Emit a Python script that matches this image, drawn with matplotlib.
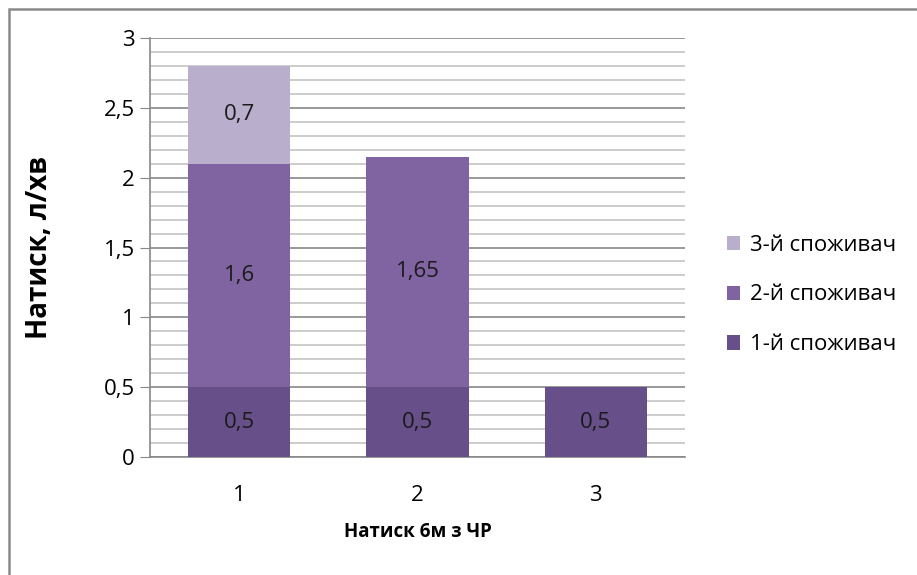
import numpy as np
import matplotlib.pyplot as plt
from matplotlib.patches import Rectangle
from matplotlib.ticker import MultipleLocator, FuncFormatter

plt.rcParams['font.family'] = ['Open Sans', 'DejaVu Sans']

categories = ["1", "2", "3"]
series_names = ["1-й споживач", "2-й споживач", "3-й споживач"]
consumer1 = [0.5, 0.5, 0.5]
consumer2 = [1.6, 1.65, 0.0]
consumer3 = [0.7, 0.0, 0.0]
colors = ["#67508a", "#8064a2", "#b9aecb"]

fig = plt.figure(figsize=(9.17, 5.75), dpi=100)
ax = fig.add_axes([0.1636, 0.2052, 0.747 - 0.1636, 0.9339 - 0.2052])

# outer chart frame
fig.patches.append(Rectangle((9 / 917, -0.1), 1.2, 1 - 9 / 575 + 0.1,
                             transform=fig.transFigure, fill=False,
                             edgecolor="#8a8a8a", linewidth=1.8, clip_on=False))

x = np.arange(1, len(categories) + 1)
bottom = np.zeros(len(categories))
handles = []
for name, vals, col in zip(series_names, [consumer1, consumer2, consumer3], colors):
    vals = np.array(vals)
    b = ax.bar(x, vals, width=0.575, bottom=bottom, color=col, label=name, zorder=3)
    handles.append(b)
    for xi, v, bt in zip(x, vals, bottom):
        if v > 0:
            ax.text(xi, bt + v / 2, f"{v:g}".replace(".", ","), ha="center", va="center",
                    fontsize=16, color="#1a1a1a", zorder=4)
    bottom = bottom + vals

ax.set_xlim(0.5, 3.5)
ax.set_ylim(0, 3)
ax.yaxis.set_major_locator(MultipleLocator(0.5))
ax.yaxis.set_minor_locator(MultipleLocator(0.1))
ax.yaxis.set_major_formatter(FuncFormatter(lambda v, p: f"{v:g}".replace(".", ",")))
ax.set_xticks(x)
ax.set_xticklabels(categories)

ax.grid(axis="y", which="major", color="#888888", linewidth=1.2, zorder=0)
ax.grid(axis="y", which="minor", color="#c4c4c4", linewidth=1.2, zorder=0)
ax.set_axisbelow(True)

for s in ["top", "right"]:
    ax.spines[s].set_visible(False)
ax.spines["left"].set_color("#888888")
ax.spines["bottom"].set_color("#888888")
ax.spines["left"].set_linewidth(1.2)
ax.spines["bottom"].set_linewidth(1.2)

ax.tick_params(axis="y", which="major", length=7, color="#888888", labelsize=16, pad=4)
ax.tick_params(axis="y", which="minor", length=0)
ax.tick_params(axis="x", length=0, labelsize=16, pad=20)

ax.set_ylabel("Натиск, л/хв", fontsize=20, fontweight="bold", labelpad=36)
ax.set_xlabel("Натиск 6м з ЧР", fontsize=13.5, fontweight="bold", labelpad=12)

leg = fig.legend(handles[::-1], [h.get_label() for h in handles[::-1]],
                 loc="center left", bbox_to_anchor=(0.771, 0.487), frameon=False,
                 fontsize=16, handlelength=0.6, handleheight=0.6,
                 handletextpad=0.45, labelspacing=1.3)

fig.savefig("out.png", dpi=100, facecolor="white")
